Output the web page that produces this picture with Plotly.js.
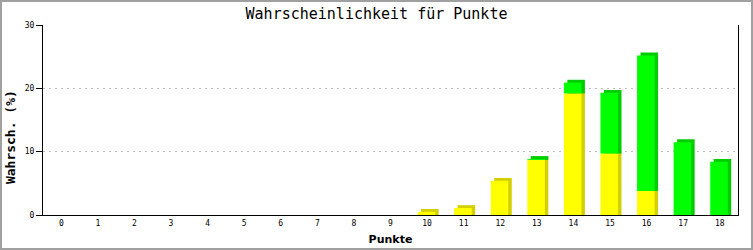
<!DOCTYPE html>
<html>
<head>
<meta charset="utf-8">
<script src="https://cdn.plot.ly/plotly-3.0.1.min.js"></script>
<style>
html,body{margin:0;padding:0;background:#fff;}
#chart{width:749px;height:246px;border:2px solid #a0a0a0;}
</style>
</head>
<body>
<div id="chart"></div>
<script>
// Data
const categories = ["0","1","2","3","4","5","6","7","8","9","10","11","12","13","14","15","16","17","18"];
const yellowValues = [0,0,0,0,0,0,0,0,0,0,0.5,1.1,5.4,8.7,19.2,9.7,3.8,0,0];
const greenValues  = [0,0,0,0,0,0,0,0,0,0,0,0,0,0.15,1.7,9.6,21.4,11.5,8.4];
const titleText = "Wahrscheinlichkeit für Punkte";
const xTitle = "Punkte";
const yTitle = "Wahrsch. (%)";

// styling for the pseudo-3D effect
const depthY = 0.45;          // in value units
const frontOffset = -0.26, barWidth = 0.48, depthX = 0.095;
const cYellow = "#ffff00", cYellowDark = "#d4cf00";
const cGreen = "#00ff00", cGreenDark = "#00cc00";

const totals = yellowValues.map((v,i)=>v+greenValues[i]);

// shadows (side/top faces)
const ySh = yellowValues.map(v => v>0 ? v+depthY : null);
const gShBase = yellowValues.map((v,i)=> greenValues[i]>0 ? v : null);
const gShLen = greenValues.map((g,i)=> g>0 ? totals[i]+depthY-yellowValues[i] : null);

const traces = [
  {type:'bar', x:categories, y:ySh, base:0, offset:frontOffset+depthX, width:barWidth,
   marker:{color:cYellowDark, line:{width:0}}, hoverinfo:'skip', showlegend:false},
  {type:'bar', x:categories, y:gShLen, base:gShBase, offset:frontOffset+depthX, width:barWidth,
   marker:{color:cGreenDark, line:{width:0}}, hoverinfo:'skip', showlegend:false},
  {type:'bar', x:categories, y:yellowValues.map(v=>v>0?v:null), base:0, offset:frontOffset, width:barWidth,
   marker:{color:cYellow, line:{width:0}}, showlegend:false},
  {type:'bar', x:categories, y:greenValues.map(v=>v>0?v:null), base:yellowValues, offset:frontOffset, width:barWidth,
   marker:{color:cGreen, line:{width:0}}, showlegend:false}
];

const layout = {
  width:749, height:246,
  margin:{l:41, r:13, t:23, b:33, pad:0},
  paper_bgcolor:'#ffffff', plot_bgcolor:'#ffffff',
  barmode:'overlay',
  title:{text:titleText, x:0.5, xanchor:'center', y:0.953, yanchor:'middle',
         font:{family:'DejaVu Sans Mono', size:15, color:'#000'}},
  xaxis:{type:'category', showgrid:false, showline:true, linecolor:'#000', linewidth:1,
         ticks:'', tickfont:{family:'DejaVu Sans Mono', size:8, color:'#000'},
         range:[-0.5,18.5], zeroline:false, fixedrange:true,
         title:{text:xTitle, font:{family:'DejaVu Sans', size:11, color:'#000', weight:'bold'}, standoff:8}},
  yaxis:{range:[0,30], tickvals:[0,10,20,30], ticktext:["0","10","20","30"],
         showgrid:true, gridcolor:'#c0c0c0', griddash:'2px,4px', gridwidth:1,
         showline:true, mirror:true, linecolor:'#000', linewidth:1,
         ticks:'outside', ticklen:6, tickcolor:'#000', zeroline:false,
         tickfont:{family:'DejaVu Sans Mono', size:8, color:'#000'}},
  annotations:[{text:yTitle, textangle:-90, xref:'paper', yref:'paper', x:0, y:0.41,
                xanchor:'center', yanchor:'middle', xshift:-33, showarrow:false,
                font:{family:'DejaVu Sans Mono', size:13, color:'#000', weight:'bold'}}],
  font:{family:'DejaVu Sans Mono', color:'#000'}
};

Plotly.newPlot('chart', traces, layout, {staticPlot:true, displayModeBar:false});
</script>
</body>
</html>
